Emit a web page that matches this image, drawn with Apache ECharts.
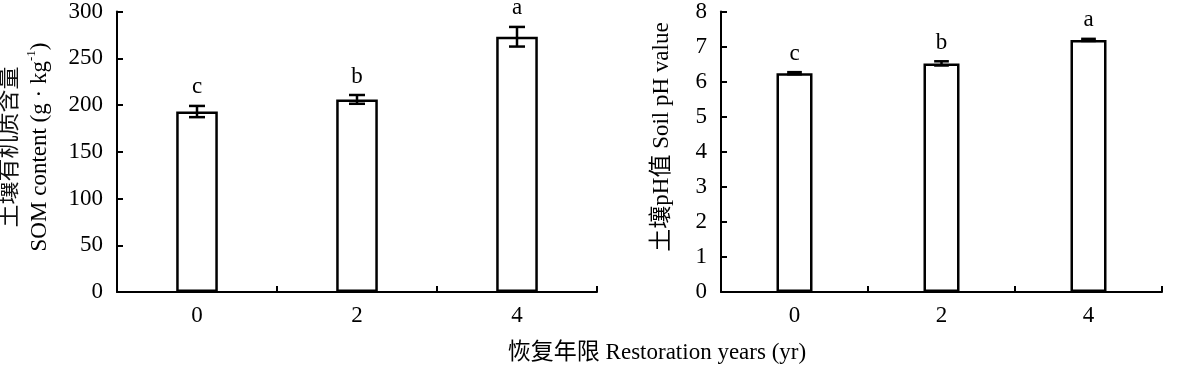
<!DOCTYPE html>
<html>
<head>
<meta charset="utf-8">
<script src="https://cdn.jsdelivr.net/npm/echarts@6/dist/echarts.min.js"></script>
<style>html,body{margin:0;padding:0;background:#fff}#c{width:1200px;height:365px}</style>
</head>
<body>
<div id="c"></div>
<script>
// ---- data ----
var categories = ['0', '2', '4'];
var somMean = [193, 206, 273];
var somErr = [6, 4.7, 10.5];
var somLetters = ['c', 'b', 'a'];
var phMean = [6.24, 6.52, 7.19];
var phErr = [0.03, 0.06, 0.03];
var phLetters = ['c', 'b', 'a'];
var somTicks = {min: 0, max: 300, interval: 50};
var phTicks = {min: 0, max: 8, interval: 1};

var FONT = '"Liberation Serif", "Times New Roman", "Noto Sans CJK SC", serif';
var FS = 23;

function errData(mean, err, letters) {
  return mean.map(function (m, i) { return [i, m, err[i], letters[i]]; });
}

function renderErr(params, api) {
  var x = api.value(0), m = api.value(1), e = api.value(2);
  var letter = api.value(3);
  var top = api.coord([x, m + e]);
  var bot = api.coord([x, m - e]);
  var half = api.size([1, 0])[0] * 0.05;
  var ls = {stroke: '#000', lineWidth: 2.5};
  return {
    type: 'group',
    children: [
      {type: 'line', shape: {x1: top[0], y1: top[1], x2: bot[0], y2: bot[1]}, style: ls},
      {type: 'line', shape: {x1: top[0] - half, y1: top[1], x2: top[0] + half, y2: top[1]}, style: ls},
      {type: 'line', shape: {x1: bot[0] - half, y1: bot[1], x2: bot[0] + half, y2: bot[1]}, style: ls},
      {type: 'text', style: {text: letter, x: top[0], y: top[1] - 7, align: 'center', verticalAlign: 'bottom',
        font: FS + 'px ' + FONT, fill: '#000'}}
    ]
  };
}

function xAxisCfg(gi) {
  return {
    type: 'category', gridIndex: gi, data: categories, boundaryGap: true,
    axisLine: {show: true, lineStyle: {color: '#000', width: 2}},
    axisTick: {show: true, inside: true, length: 6, alignWithLabel: false, interval: 0, lineStyle: {color: '#000', width: 2}},
    axisLabel: {color: '#000', fontFamily: FONT, fontSize: FS, margin: 12},
    splitLine: {show: false}
  };
}
function yAxisCfg(gi, t) {
  return {
    type: 'value', gridIndex: gi, min: t.min, max: t.max, interval: t.interval,
    axisLine: {show: true, lineStyle: {color: '#000', width: 2}},
    axisTick: {show: true, inside: true, length: 6, lineStyle: {color: '#000', width: 2}},
    axisLabel: {color: '#000', fontFamily: FONT, fontSize: FS, margin: 14},
    splitLine: {show: false}
  };
}

var chart = echarts.init(document.getElementById('c'), null, {renderer: 'canvas'});
chart.setOption({
  animation: false,
  backgroundColor: '#fff',
  grid: [
    {left: 117, top: 7, width: 480, height: 285},
    {left: 721, top: 7, width: 441, height: 285}
  ],
  xAxis: [xAxisCfg(0), xAxisCfg(1)],
  yAxis: [yAxisCfg(0, somTicks), yAxisCfg(1, phTicks)],
  series: [
    {type: 'bar', xAxisIndex: 0, yAxisIndex: 0, data: somMean, barWidth: '26%',
      itemStyle: {color: '#fff', borderColor: '#000', borderWidth: 2.5}},
    {type: 'custom', xAxisIndex: 0, yAxisIndex: 0, data: errData(somMean, somErr, somLetters),
      renderItem: renderErr, z: 5},
    {type: 'bar', xAxisIndex: 1, yAxisIndex: 1, data: phMean, barWidth: '24.5%',
      itemStyle: {color: '#fff', borderColor: '#000', borderWidth: 2.5}},
    {type: 'custom', xAxisIndex: 1, yAxisIndex: 1, data: errData(phMean, phErr, phLetters),
      renderItem: renderErr, z: 5}
  ],
  graphic: [
    {type: 'text', x: 25, y: 147, rotation: Math.PI / 2,
      style: {text: '土壤有机质含量\n{e|SOM content (g · kg}{s|-1}{e|)}', align: 'center', verticalAlign: 'middle',
        font: FS + 'px ' + FONT, fill: '#111', lineHeight: 30,
        rich: {e: {fontFamily: FONT, fontSize: FS, fill: '#000', lineHeight: 30}, s: {fontFamily: FONT, fontSize: 13, verticalAlign: 'top', lineHeight: 30, fill: '#000'}}}},
    {type: 'text', x: 662, y: 137, rotation: Math.PI / 2,
      style: {text: '土壤pH值 Soil pH value', align: 'center', verticalAlign: 'middle',
        font: FS + 'px ' + FONT, fill: '#000'}},
    {type: 'text', x: 657, y: 353,
      style: {text: '恢复年限 Restoration years (yr)', align: 'center', verticalAlign: 'middle',
        font: FS + 'px ' + FONT, fill: '#000'}}
  ]
});
</script>
</body>
</html>
